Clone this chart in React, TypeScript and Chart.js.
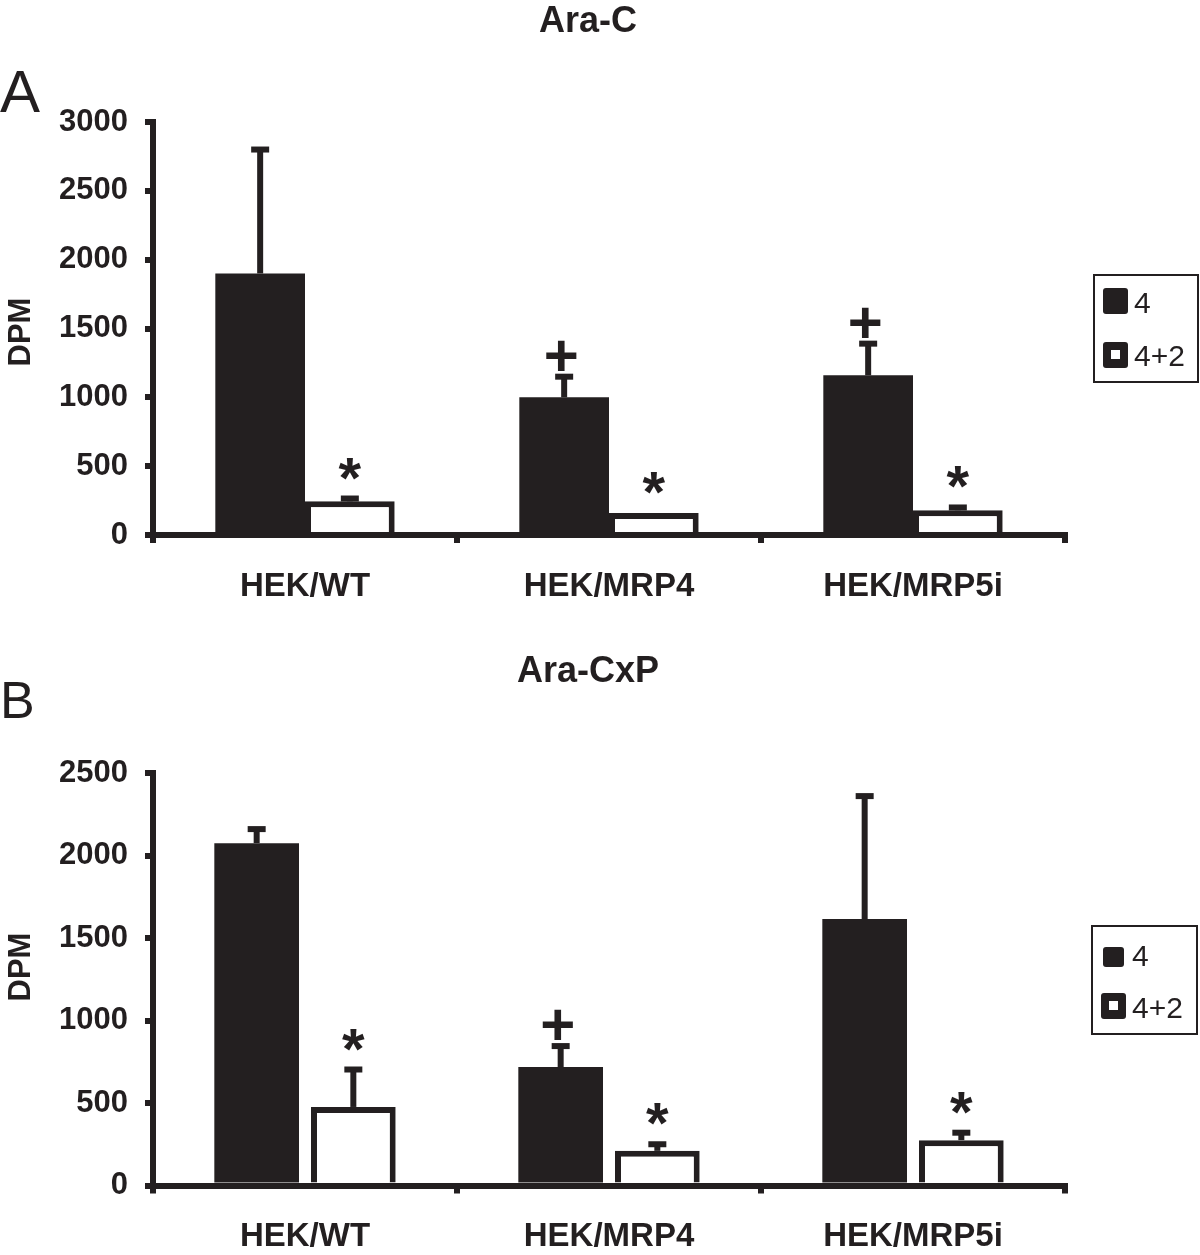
import React, { useEffect, useRef } from 'react';
import { Chart, registerables } from 'chart.js';

Chart.register(...registerables);

// ---------- data ----------
const categories = ['HEK/WT', 'HEK/MRP4', 'HEK/MRP5i'];
const seriesLabels = ['4', '4+2'];

// Panel A: Ara-C
const araC_4 = [1900, 1000, 1160];
const araC_4_err = [900, 150, 230];
const araC_42 = [245, 160, 180];
const araC_42_err = [20, 0, 20];
const araC_4_marks = ['', '+', '+'];
const araC_42_marks = ['*', '*', '*'];
const araC_yMax = 3000;
const araC_yStep = 500;

// Panel B: Ara-CxP
const araCxP_4 = [2075, 718, 1615];
const araCxP_4_err = [85, 127, 745];
const araCxP_42 = [476, 210, 275];
const araCxP_42_err = [227, 40, 45];
const araCxP_4_marks = ['', '+', ''];
const araCxP_42_marks = ['*', '*', '*'];
const araCxP_yMax = 2500;
const araCxP_yStep = 500;

// ---------- style ----------
const FONT = '"Liberation Sans", Arial, Helvetica, sans-serif';
const INK = '#231f20';

type PanelCfg = {
  title: string;
  letter: string;
  letterSize: number;
  letterBaseline: number;
  titleBaseline: number;
  dpmY: number;
  height: number;
  top: number;
  bottom: number;
  yMax: number;
  yStep: number;
  v4: number[];
  v42: number[];
  e4: number[];
  e42: number[];
  m4: string[];
  m42: string[];
  barPct: number;
  catPct: number;
  legend: {
    box: [number, number, number, number];
    sq1: [number, number, number, number];
    sq2: [number, number, number, number];
    t1y: number;
    t2y: number;
    tx: number;
  };
};

function overlayPlugin(cfg: PanelCfg) {
  return {
    id: 'overlay',
    afterDatasetsDraw(chart: any) {
      const ctx = chart.ctx;
      const ys = chart.scales.y;
      const errs = [cfg.e4, cfg.e42];
      const marks = [cfg.m4, cfg.m42];
      ctx.save();
      ctx.strokeStyle = INK;
      ctx.fillStyle = INK;
      chart.data.datasets.forEach((ds: any, i: number) => {
        const meta = chart.getDatasetMeta(i);
        meta.data.forEach((bar: any, j: number) => {
          const v = ds.data[j];
          let yt = bar.y;
          if (errs[i][j] > 0) {
            yt = ys.getPixelForValue(v + errs[i][j]);
            ctx.lineWidth = 6;
            ctx.lineCap = 'butt';
            ctx.beginPath();
            ctx.moveTo(bar.x, bar.y);
            ctx.lineTo(bar.x, yt);
            ctx.stroke();
            ctx.beginPath();
            ctx.moveTo(bar.x - 9, yt);
            ctx.lineTo(bar.x + 9, yt);
            ctx.stroke();
          }
          const m = marks[i][j];
          ctx.textAlign = 'center';
          ctx.textBaseline = 'alphabetic';
          if (m === '*') {
            ctx.font = `bold 58px ${FONT}`;
            ctx.fillText('*', bar.x, yt - 33 + 32);
          } else if (m === '+') {
            ctx.font = `bold 60px ${FONT}`;
            ctx.fillText('+', bar.x - 3, yt - 22 + 21);
          }
        });
      });
      ctx.restore();
    },
    afterDraw(chart: any) {
      const ctx = chart.ctx;
      ctx.save();
      ctx.fillStyle = INK;
      ctx.strokeStyle = INK;
      // title
      ctx.font = `bold 36px ${FONT}`;
      ctx.textAlign = 'center';
      ctx.textBaseline = 'alphabetic';
      ctx.fillText(cfg.title, 588, cfg.titleBaseline);
      // panel letter
      ctx.font = `${cfg.letterSize}px ${FONT}`;
      ctx.textAlign = 'left';
      ctx.fillText(cfg.letter, 0, cfg.letterBaseline);
      // y axis title
      ctx.save();
      ctx.translate(30, cfg.dpmY);
      ctx.rotate(-Math.PI / 2);
      ctx.font = `bold 31px ${FONT}`;
      ctx.textAlign = 'center';
      ctx.fillText('DPM', 0, 0);
      ctx.restore();
      // legend
      const L = cfg.legend;
      ctx.lineWidth = 2;
      ctx.strokeRect(L.box[0], L.box[1], L.box[2], L.box[3]);
      const [x1, y1, w1, h1] = L.sq1;
      ctx.beginPath();
      ctx.roundRect(x1, y1, w1, h1, 3);
      ctx.fill();
      const [x2, y2, w2, h2] = L.sq2;
      ctx.beginPath();
      ctx.roundRect(x2, y2, w2, h2, 3);
      ctx.fill();
      ctx.fillStyle = '#ffffff';
      ctx.fillRect(x2 + 8, y2 + 8, w2 - 16, h2 - 17);
      ctx.fillStyle = INK;
      ctx.font = `30px ${FONT}`;
      ctx.textAlign = 'left';
      ctx.textBaseline = 'middle';
      const labels = chart.data.datasets.map((d: any) => d.label);
      ctx.fillText(labels[0], L.tx, L.t1y);
      ctx.fillText(labels[1], L.tx, L.t2y);
      ctx.restore();
    },
  };
}

function makeChart(canvas: HTMLCanvasElement, cfg: PanelCfg) {
  const gridOpts = {
    display: true,
    drawOnChartArea: false,
    drawTicks: true,
    tickLength: 8,
    lineWidth: 6,
    color: INK,
  };
  return new Chart(canvas, {
    type: 'bar',
    data: {
      labels: categories,
      datasets: [
        {
          label: seriesLabels[0],
          data: cfg.v4,
          backgroundColor: INK,
          borderWidth: 0,
          barPercentage: cfg.barPct,
          categoryPercentage: cfg.catPct,
        },
        {
          label: seriesLabels[1],
          data: cfg.v42,
          backgroundColor: '#ffffff',
          borderColor: INK,
          borderWidth: 6,
          borderSkipped: 'bottom',
          barPercentage: cfg.barPct,
          categoryPercentage: cfg.catPct,
        },
      ],
    },
    options: {
      responsive: false,
      animation: false,
      devicePixelRatio: 1,
      layout: { padding: { top: cfg.top, right: 135, left: 0, bottom: 0 } },
      plugins: {
        legend: { display: false },
        tooltip: { enabled: false },
        title: { display: false },
      },
      scales: {
        x: {
          grid: { ...gridOpts, offset: true },
          border: { display: true, width: 6, color: INK },
          ticks: {
            color: INK,
            font: { family: FONT, size: 33, weight: 'bold' },
            padding: 24,
            maxRotation: 0,
          },
          afterFit: (s: any) => {
            s.height = cfg.height - cfg.bottom;
          },
        },
        y: {
          min: 0,
          max: cfg.yMax,
          grid: gridOpts,
          border: { display: true, width: 6, color: INK },
          ticks: {
            stepSize: cfg.yStep,
            color: INK,
            font: { family: FONT, size: 31, weight: 'bold' },
            padding: 17,
            callback: (v: any) => String(v),
          },
          afterFit: (s: any) => {
            s.width = 153;
          },
        },
      },
    } as any,
    plugins: [overlayPlugin(cfg) as any],
  });
}

const panelA: PanelCfg = {
  title: 'Ara-C',
  letter: 'A',
  letterSize: 60,
  letterBaseline: 112,
  titleBaseline: 32,
  dpmY: 332,
  height: 627,
  top: 122,
  bottom: 535,
  yMax: araC_yMax,
  yStep: araC_yStep,
  v4: araC_4,
  v42: araC_42,
  e4: araC_4_err,
  e42: araC_42_err,
  m4: araC_4_marks,
  m42: araC_42_marks,
  barPct: 1.0,
  catPct: 0.59,
  legend: {
    box: [1094, 275, 104, 107],
    sq1: [1103, 288, 25, 26],
    sq2: [1103, 342, 25, 26],
    t1y: 305,
    t2y: 358,
    tx: 1134,
  },
};

const panelB: PanelCfg = {
  title: 'Ara-CxP',
  letter: 'B',
  letterSize: 52,
  letterBaseline: 91,
  titleBaseline: 55,
  dpmY: 340,
  height: 628,
  top: 146,
  bottom: 558.5,
  yMax: araCxP_yMax,
  yStep: araCxP_yStep,
  v4: araCxP_4,
  v42: araCxP_42,
  e4: araCxP_4_err,
  e42: araCxP_42_err,
  m4: araCxP_4_marks,
  m42: araCxP_42_marks,
  barPct: 0.876,
  catPct: 0.636,
  legend: {
    box: [1092, 299, 105, 108],
    sq1: [1103, 320, 21, 20],
    sq2: [1101, 366, 25, 26],
    t1y: 331,
    t2y: 383,
    tx: 1132,
  },
};

function Panel({ cfg, top }: { cfg: PanelCfg; top: number }) {
  const ref = useRef<HTMLCanvasElement | null>(null);
  useEffect(() => {
    if (!ref.current) return;
    const chart = makeChart(ref.current, cfg);
    return () => chart.destroy();
  }, [cfg]);
  return (
    <canvas
      ref={ref}
      width={1200}
      height={cfg.height}
      style={{ position: 'absolute', left: 0, top, width: 1200, height: cfg.height, display: 'block' }}
    />
  );
}

export default function App() {
  return (
    <div style={{ position: 'absolute', left: 0, top: 0, width: 1200, height: 1255, background: '#ffffff' }}>
      <Panel cfg={panelA} top={0} />
      <Panel cfg={panelB} top={627} />
    </div>
  );
}
